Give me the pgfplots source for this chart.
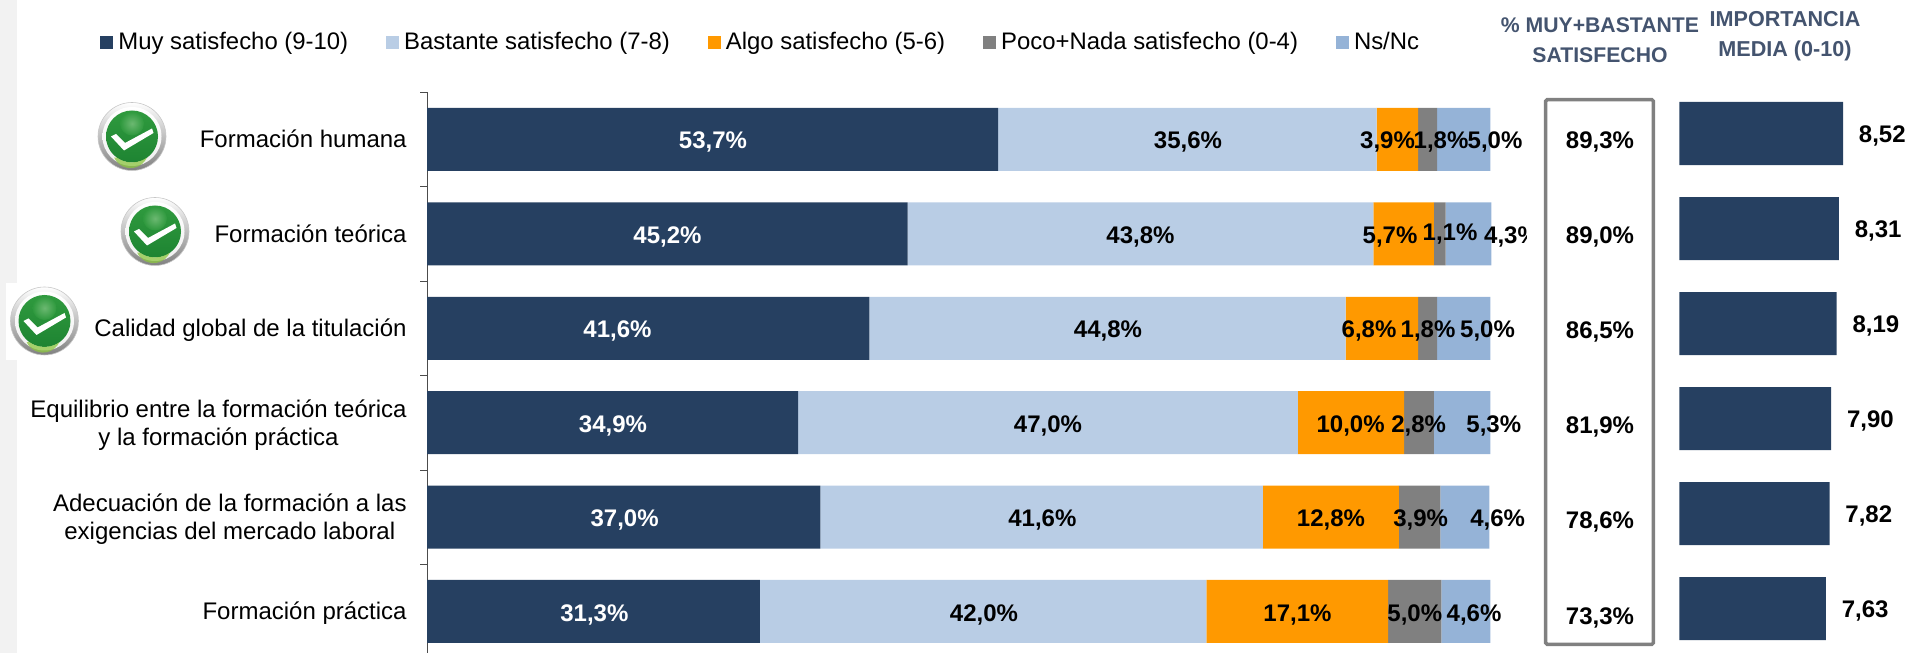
\documentclass[border=0pt]{standalone}
\usepackage{fontspec}
\setmainfont{Liberation Sans}
\usepackage{pgfplots}
\pgfplotsset{compat=1.18}
\definecolor{navy}{HTML}{264061}
\definecolor{lightb}{HTML}{B9CDE5}
\definecolor{orng}{HTML}{FF9900}
\definecolor{gry}{HTML}{808080}
\definecolor{midb}{HTML}{95B3D7}
\definecolor{head}{HTML}{44546F}
\definecolor{gA}{HTML}{2F9A3E}
\definecolor{gB}{HTML}{1E8432}
\definecolor{gH}{HTML}{7CC27F}
\definecolor{gL}{HTML}{8CC63F}
\newcommand\PX[2]{({(#1)*0.5pt},{(653-(#2))*0.5pt})}
\newcommand\lab[4][black]{\node[anchor=base,inner sep=0pt,text=#1,font=\fontsize{12}{14}\selectfont\bfseries] at \PX{#2}{#3+8.5} {#4};}
\newcommand\icon[2]{%
 \begin{scope}[shift={({(#1)*0.5pt},{(653-(#2))*0.5pt})},x=0.5pt,y=0.5pt]
  \shade[top color=white,bottom color=black!50,draw=black!22,line width=0.3pt] (0,0) circle (34);
  \shade[top color=white,bottom color=black!6] (0,0) circle (29.5);
  \shade[top color=gA,bottom color=gB] (0,0) circle (26);
  \shade[inner color=gH,outer color=gA,opacity=.8] (0,13) circle (12);
  \fill[gL,opacity=.75] (-15,-21.2) arc (235:305:26) arc (-25:-155:18);
  \fill[white] (-21,0) -- (-16,2.5) -- (-7,-6.5) -- (20,8) -- (21.5,3.5) -- (-8,-14) -- cycle;
 \end{scope}}
\begin{document}
\begin{tikzpicture}
\path[use as bounding box] (0,0) rectangle (955pt,326.5pt);
\fill[black!5] \PX{0}{0} rectangle \PX{17}{653};
\fill[white] \PX{6}{283} rectangle \PX{20}{360};
\begin{axis}[
  at={(213.5pt,0pt)},anchor=south west,scale only axis,
  width=531.65pt,height=280.35pt,
  xbar stacked,bar width=31.5pt,
  xmin=0,xmax=100,ymin=-0.5,ymax=5.44,y dir=reverse,
  hide x axis,axis y line*=left,
  y axis line style={black!70,-},
  ytick={0,1,2,3,4,5},
  yticklabels={{\strut Formación humana},{\strut Formación teórica},{\strut Calidad global de la titulación},{\strut Equilibrio entre la formación teórica\\\strut y la formación práctica},{\strut Adecuación de la formación a las\\\strut exigencias del mercado laboral},{\strut Formación práctica}},
  yticklabel style={align=center,inner xsep=0pt,inner ysep=0pt,xshift=-10pt,yshift=-1.4pt,font=\fontsize{12}{14}\selectfont},
  major tick length=0pt,minor tick length=3.5pt,tick align=outside,
  minor ytick={-0.5,0.5,1.5,2.5,3.5,4.5},
  minor tick style={black!70},
  clip=false,
  every axis plot/.append style={draw=none,
    legend image code/.code={\fill[##1] (0pt,-3.25pt) rectangle (6.5pt,3.25pt);}},
  legend columns=5,
  legend style={at={(axis cs:-30.75,-1.025)},anchor=west,draw=none,fill=none,inner sep=0pt,
    font=\fontsize{11.95}{14}\selectfont,
    nodes={inner xsep=0pt,inner ysep=0pt},
    /tikz/every even column/.append style={column sep=19pt},
    /tikz/every odd column/.append style={column sep=2.5pt}},
  legend cell align=left,
]
\addplot[fill=navy] coordinates {(53.7,0) (45.2,1) (41.6,2) (34.9,3) (37.0,4) (31.3,5)};
\addplot[fill=lightb] coordinates {(35.6,0) (43.8,1) (44.8,2) (47.0,3) (41.6,4) (42.0,5)};
\addplot[fill=orng] coordinates {(3.9,0) (5.7,1) (6.8,2) (10.0,3) (12.8,4) (17.1,5)};
\addplot[fill=gry] coordinates {(1.8,0) (1.1,1) (1.8,2) (2.8,3) (3.9,4) (5.0,5)};
\addplot[fill=midb] coordinates {(5.0,0) (4.3,1) (5.0,2) (5.3,3) (4.6,4) (4.6,5)};
\legend{Muy satisfecho (9-10),Bastante satisfecho (7-8),Algo satisfecho (5-6),Poco+Nada satisfecho (0-4),Ns/Nc}
\end{axis}
\begin{axis}[
  at={(839.7pt,0pt)},anchor=south west,scale only axis,
  width=96pt,height=283.5pt,
  xbar,bar width=31.5pt,bar shift=0pt,
  xmin=0,xmax=10,ymin=-0.5,ymax=5.468,y dir=reverse,
  hide axis,clip=false,
  nodes near coords,
  /pgf/number format/.cd,assume math mode=true,use comma,fixed,fixed zerofill,precision=2,
  /pgfplots/.cd,
  every node near coord/.append style={anchor=west,inner xsep=0pt,inner ysep=0pt,xshift=7.75pt,yshift=-1.25pt,font=\fontsize{12}{14}\selectfont\bfseries},
]
\addplot[fill=navy,draw=none] coordinates {(8.52,0) (8.31,1) (8.19,2) (7.90,3) (7.82,4) (7.63,5)};
\end{axis}
% labels
\lab[white]{713}{140}{53,7\%}\lab{1188}{140}{35,6\%}\lab{1387.5}{140}{3,9\%}\lab{1441}{140}{1,8\%}\lab{1495}{140}{5,0\%}
\lab[white]{667.5}{235}{45,2\%}\lab{1140.5}{235}{43,8\%}\lab{1390}{235}{5,7\%}\lab{1450}{232}{1,1\%}\lab{1511.5}{235}{4,3\%}
\fill[white] \PX{1527}{210} rectangle \PX{1544}{260};
\lab[white]{617.5}{329}{41,6\%}\lab{1108}{329}{44,8\%}\lab{1369}{329}{6,8\%}\lab{1428}{329}{1,8\%}\lab{1487.5}{329}{5,0\%}
\lab[white]{613}{424}{34,9\%}\lab{1048}{424}{47,0\%}\lab{1350.6}{424}{10,0\%}\lab{1418.7}{424}{2,8\%}\lab{1493.8}{424}{5,3\%}
\lab[white]{624.6}{518}{37,0\%}\lab{1042.4}{518}{41,6\%}\lab{1331}{518}{12,8\%}\lab{1420.6}{518}{3,9\%}\lab{1497.7}{518}{4,6\%}
\lab[white]{594.4}{613}{31,3\%}\lab{984}{613}{42,0\%}\lab{1297.5}{613}{17,1\%}\lab{1414.8}{613}{5,0\%}\lab{1474}{613}{4,6\%}
% box
\draw[gry,line width=1.75pt,rounded corners=0.7pt] \PX{1545.7}{99.7} rectangle \PX{1653.3}{644.3};
\lab{1600}{140}{89,3\%}\lab{1600}{235}{89,0\%}\lab{1600}{330}{86,5\%}\lab{1600}{425}{81,9\%}\lab{1600}{520}{78,6\%}\lab{1600}{615.5}{73,3\%}
% headers
\node[align=center,inner sep=0pt,text=head,font=\fontsize{10.6}{15}\selectfont\bfseries] at \PX{1600}{40} {\% MUY+BASTANTE\\SATISFECHO};
\node[align=center,inner sep=0pt,text=head,font=\fontsize{10.8}{15}\selectfont\bfseries] at \PX{1785}{36} {IMPORTANCIA\\MEDIA (0-10)};
% icons
\icon{132}{136.5}\icon{155}{231.5}\icon{44.5}{321}
\end{tikzpicture}
\end{document}
